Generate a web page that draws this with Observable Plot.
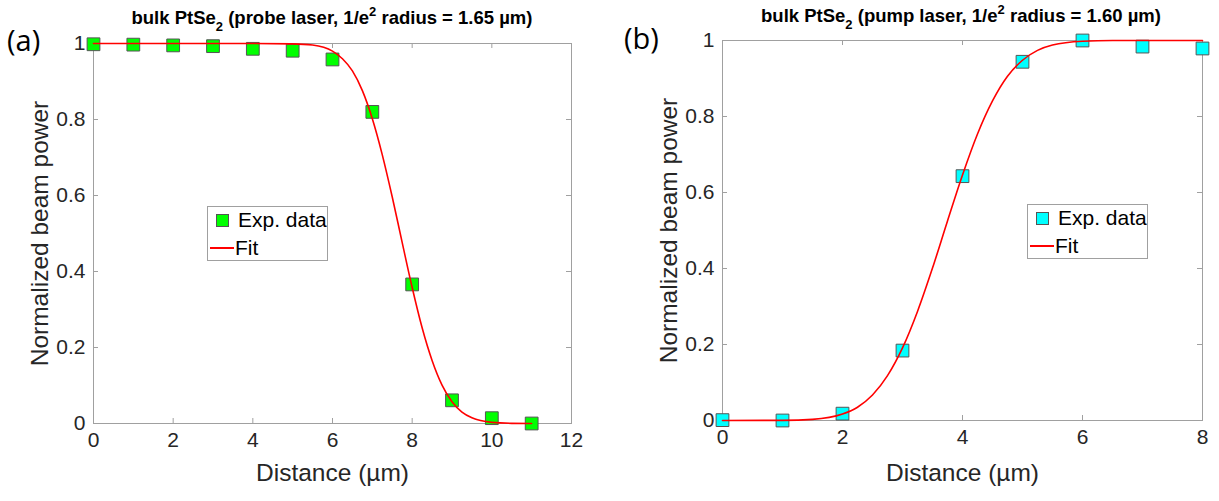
<!DOCTYPE html>
<html><head><meta charset="utf-8">
<script src="https://cdn.jsdelivr.net/npm/d3@7"></script>
<script src="https://cdn.jsdelivr.net/npm/@observablehq/plot@0.6"></script>
<style>
body{margin:0;background:#fff;font-family:"Liberation Sans",Arial,sans-serif;}
#wrap{position:relative;width:1219px;height:501px;overflow:hidden;background:#fff}
.panel{position:absolute;top:0}
.title{position:absolute;font-weight:bold;font-size:18.5px;line-height:20px;color:#000;white-space:nowrap;transform:translateX(-50%)}
.title sub,.title sup{font-size:13px;line-height:0;position:relative;vertical-align:baseline}
.title sub{top:7px}
.title sup{top:-8px}
.plabel{position:absolute;font-family:"Open Sans",sans-serif;font-size:29px;line-height:34px;color:#000}
.legend{position:absolute;box-sizing:border-box;border:1px solid #a0a0a0;background:#fff;width:121px;height:55px;font-size:21px;color:#000}
.legend .sw{position:absolute;left:8px;top:7px;width:13px;height:13px;box-sizing:border-box;border:1px solid #555}
.legend .ln{position:absolute;left:2px;top:40px;width:24px;height:1.5px;background:#ff0000}
.legend .t1{position:absolute;left:30px;top:1px;line-height:24px}
.legend .t2{position:absolute;left:27px;top:29px;line-height:24px}
</style></head>
<body>
<div id="wrap"></div>
<script>
// ---- data ----
const probeX = [0, 1, 2, 3, 4, 5, 6, 7, 8, 9, 10, 11];
const probeY = [0.998, 0.997, 0.995, 0.993, 0.986, 0.981, 0.958, 0.82, 0.366, 0.061, 0.014, 0.0];
const probeFitX = [0, 1, 2, 3, 4, 5, 5.5, 6, 6.25, 6.5, 6.75, 7, 7.25, 7.5, 7.75, 8, 8.25, 8.5, 8.75, 9, 9.25, 9.5, 10, 10.5, 11];
const probeFitY = [1, 1, 1, 1, 1, 0.999, 0.996, 0.98, 0.96, 0.928, 0.876, 0.802, 0.707, 0.596, 0.476, 0.358, 0.252, 0.166, 0.101, 0.057, 0.030, 0.015, 0.003, 0.0004, 0];

const pumpX = [0, 1, 2, 3, 4, 5, 6, 7, 8];
const pumpY = [0.001, 0.0, 0.018, 0.184, 0.643, 0.944, 1.0, 0.984, 0.979];
const pumpFitX = [0, 1, 1.5, 2, 2.25, 2.5, 2.75, 3, 3.25, 3.5, 3.75, 4, 4.25, 4.5, 4.75, 5, 5.25, 5.5, 6, 6.5, 7, 8];
const pumpFitY = [0, 0.0004, 0.003, 0.017, 0.035, 0.067, 0.118, 0.191, 0.287, 0.401, 0.525, 0.646, 0.754, 0.841, 0.906, 0.948, 0.974, 0.988, 0.998, 1, 1, 1];

const probeTicksX = [0, 2, 4, 6, 8, 10, 12];
const pumpTicksX = [0, 2, 4, 6, 8];
const ticksY = [0, 0.2, 0.4, 0.6, 0.8, 1];

const xLabel = "Distance (µm)";
const yLabel = "Normalized beam power";
const legendLabels = ["Exp. data", "Fit"];

// ---- drawing ----
const AX = "#a0a0a0";
function panel(o) {
  const H = 501;
  const innerW = o.width - o.ml - o.mr, innerH = H - o.mt - o.mb;
  const pts = o.xs.map((x, i) => ({x, y: o.ys[i]}));
  const fit = o.fx.map((x, i) => ({x, y: o.fy[i]}));
  return Plot.plot({
    width: o.width, height: H,
    marginLeft: o.ml, marginRight: o.mr, marginTop: o.mt, marginBottom: o.mb,
    x: {domain: o.xDomain}, y: {domain: [0, 1]},
    style: {fontFamily: "'Liberation Sans', Arial, sans-serif", color: "#262626", background: "transparent", overflow: "visible"},
    marks: [
      Plot.frame({stroke: AX}),
      Plot.tickX(o.xTicks, {x: d => d, stroke: AX, insetTop: innerH - 5}),
      Plot.tickX(o.xTicks, {x: d => d, stroke: AX, insetBottom: innerH - 5}),
      Plot.tickY(ticksY, {y: d => d, stroke: AX, insetRight: innerW - 5}),
      Plot.tickY(ticksY, {y: d => d, stroke: AX, insetLeft: innerW - 5}),
      Plot.axisX({ticks: o.xTicks, tickSize: 0, tickPadding: 9, fontSize: 21, tickFormat: d => String(d), label: null, fill: "#262626"}),
      Plot.axisY({ticks: ticksY, tickSize: 0, tickPadding: 8, fontSize: 21, tickFormat: d => String(d), label: null, fill: "#262626"}),
      Plot.text([xLabel], {text: d => d, frameAnchor: "bottom", textAnchor: "middle", lineAnchor: "middle", dy: o.xlDy, fontSize: 24.5, fill: "#262626"}),
      Plot.text([yLabel], {text: d => d, frameAnchor: "left", textAnchor: "middle", lineAnchor: "middle", rotate: -90, dx: -53, fontSize: 24.5, fill: "#262626"}),
      Plot.dot(pts, {x: "x", y: "y", symbol: "square", r: 7.2, fill: o.color, stroke: "#555", strokeWidth: 1}),
      Plot.line(fit, {x: "x", y: "y", stroke: "#ff0000", strokeWidth: 1.6, curve: "monotone-x"})
    ]
  });
}

const wrap = document.getElementById("wrap");
function place(el, left) { const d = document.createElement("div"); d.className = "panel"; d.style.left = left + "px"; d.appendChild(el); wrap.appendChild(d); }

place(panel({width: 610, ml: 93, mr: 39, mt: 43, mb: 78, xDomain: [0, 12], xTicks: probeTicksX,
  xs: probeX, ys: probeY, fx: probeFitX, fy: probeFitY, color: "#00ff00", xlDy: 50}), 0);
place(panel({width: 609, ml: 112, mr: 17, mt: 40, mb: 81, xDomain: [0, 8], xTicks: pumpTicksX,
  xs: pumpX, ys: pumpY, fx: pumpFitX, fy: pumpFitY, color: "#00ffff", xlDy: 53}), 610);

function html(cls, left, top, inner) { const d = document.createElement("div"); d.className = cls; d.style.left = left + "px"; d.style.top = top + "px"; d.innerHTML = inner; wrap.appendChild(d); return d; }
html("title", 332, 8, "bulk PtSe<sub>2</sub> (probe laser, 1/e<sup>2</sup> radius = 1.65 µm)");
html("title", 961, 6, "bulk PtSe<sub>2</sub> (pump laser, 1/e<sup>2</sup> radius = 1.60 µm)");
html("plabel", 7, 23, "(a)");
html("plabel", 624, 21, "(b)");
function legend(left, top, color) {
  html("legend", left, top, `<div class="sw" style="background:${color}"></div><div class="t1">${legendLabels[0]}</div><div class="ln"></div><div class="t2">${legendLabels[1]}</div>`);
}
legend(207, 206, "#00ff00");
legend(1027, 204, "#00ffff");
</script>
</body></html>
